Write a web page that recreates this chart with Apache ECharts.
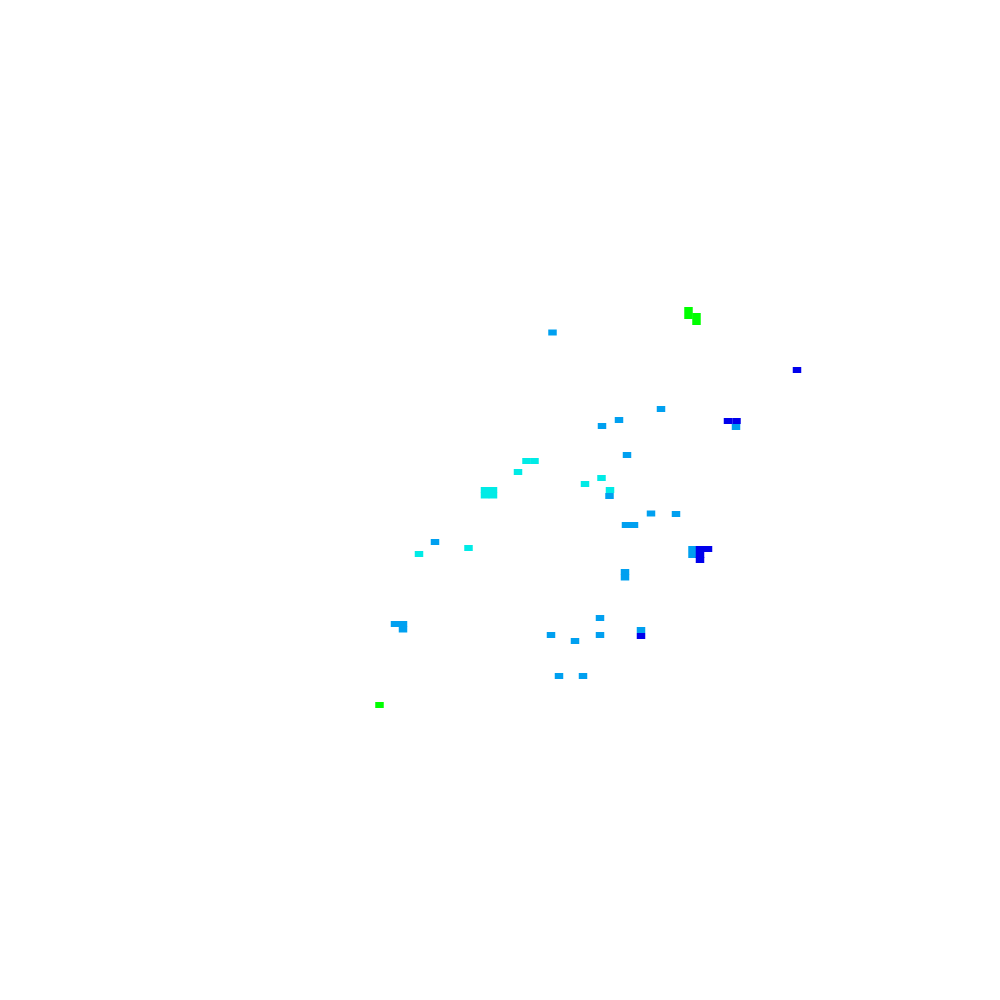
<!DOCTYPE html>
<html>
<head>
<meta charset="utf-8">
<script src="https://cdn.jsdelivr.net/npm/echarts@6/dist/echarts.min.js"></script>
<style>html,body{margin:0;padding:0;background:#fff}#c{width:1000px;height:1000px}</style>
</head>
<body>
<div id="c"></div>
<script>
// cell positions [x, y] in data units (x: 0-100 left to right, y: 0-100 bottom to top)
const lightBlueCells = [
  [55.25, 66.75], [66.1, 59.1], [61.9, 58.0], [60.2, 57.4], [73.6, 57.3],
  [62.7, 54.5], [60.95, 50.4], [43.5, 45.8], [65.1, 48.65], [67.6, 48.6],
  [62.6, 47.5], [63.4, 47.5], [69.25, 45.1], [69.25, 44.5], [62.5, 42.8],
  [62.5, 42.25], [39.5, 37.6], [40.3, 37.6], [40.3, 37.05], [55.1, 36.5],
  [57.5, 35.9], [60.0, 38.2], [60.0, 36.5], [64.1, 37.0], [55.9, 32.4], [58.3, 32.4]
];
const cyanCells = [
  [52.65, 53.9], [53.45, 53.9], [51.8, 52.8], [48.5, 51.0], [49.3, 51.0],
  [48.5, 50.45], [49.3, 50.45], [58.5, 51.6], [60.15, 52.2], [61.0, 51.0],
  [46.85, 45.2], [41.9, 44.6]
];
const blueCells = [
  [79.7, 63.0], [72.8, 57.9], [73.65, 57.9], [70.0, 45.1], [70.8, 45.1],
  [70.0, 44.5], [70.0, 44.0], [64.1, 36.4]
];
const greenCells = [
  [68.85, 69.0], [68.85, 68.4], [69.65, 68.4], [69.65, 67.8], [37.95, 29.5]
];
const seriesNames = ['light blue', 'cyan', 'blue', 'green'];
const seriesColors = ['#00a0f0', '#00ebe6', '#0000ec', '#00ff00'];
const seriesData = [lightBlueCells, cyanCells, blueCells, greenCells];

const chart = echarts.init(document.getElementById('c'));
chart.setOption({
  animation: false,
  backgroundColor: '#ffffff',
  grid: { left: 0, right: 0, top: 0, bottom: 0 },
  xAxis: { type: 'value', min: 0, max: 100, show: false },
  yAxis: { type: 'value', min: 0, max: 100, show: false },
  series: seriesData.map((d, i) => ({
    name: seriesNames[i],
    type: 'scatter',
    symbol: 'rect',
    symbolSize: [8.5, 6],
    itemStyle: { color: seriesColors[i], opacity: 1 },
    data: d
  }))
});
</script>
</body>
</html>
